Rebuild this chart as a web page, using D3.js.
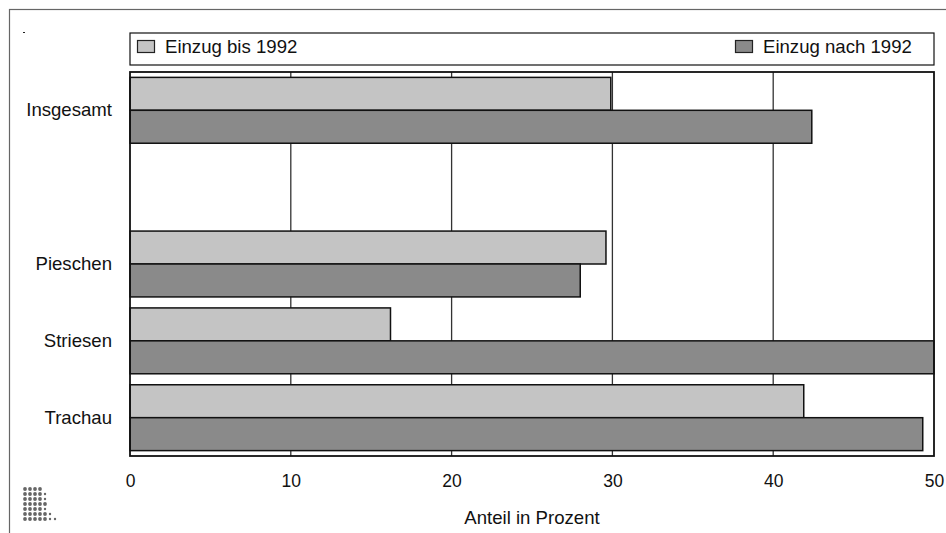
<!DOCTYPE html>
<html>
<head>
<meta charset="utf-8">
<script src="https://cdn.jsdelivr.net/npm/d3@7"></script>
<style>
  html, body { margin: 0; padding: 0; background: #fff; }
  svg text { font-family: "Liberation Sans", Arial, Helvetica, sans-serif; fill: #111; }
</style>
</head>
<body>
<svg id="chart" width="946" height="533"></svg>
<script>
// ---- data ----
const categories = ["Insgesamt", "", "Pieschen", "Striesen", "Trachau"]; // "" = empty spacer row
const seriesNames = ["Einzug bis 1992", "Einzug nach 1992"];
const bis1992   = [29.9, null, 29.6, 16.2, 41.9];
const nach1992  = [42.4, null, 28.0, 50.0, 49.3];
const xTicks = [0, 10, 20, 30, 40, 50];
const xTitle = "Anteil in Prozent";
const colors = ["#c4c4c4", "#8a8a8a"];

const svg = d3.select("#chart");
const W = 946, H = 533;
const m = { left: 130, right: 12, top: 72, bottom: 77 };
const labelFont = "18.6px";

// outer frame
svg.append("rect").attr("x", 9.5).attr("y", 9.5).attr("width", 1000).attr("height", 1000)
  .attr("fill", "none").attr("stroke", "#666").attr("stroke-width", 1.2);
// tiny mark top-left
svg.append("rect").attr("x", 23).attr("y", 32).attr("width", 2).attr("height", 1).attr("fill", "#222");

const x = d3.scaleLinear().domain([0, 50]).range([m.left, W - m.right]);
const y = d3.scaleBand().domain(categories).range([m.top, H - m.bottom])
  .paddingInner(0.143).paddingOuter(0.07);
const ySub = d3.scaleBand().domain(seriesNames).range([0, y.bandwidth()]);

// gridlines
svg.append("g").selectAll("line").data(xTicks.filter(t => t > 0 && t < 50)).join("line")
  .attr("x1", d => x(d)).attr("x2", d => x(d))
  .attr("y1", m.top).attr("y2", H - m.bottom)
  .attr("stroke", "#333").attr("stroke-width", 1.3);

// bars
const rows = categories.map((c, i) => ({ c, vals: [bis1992[i], nach1992[i]] }));
const g = svg.append("g");
rows.forEach(r => {
  r.vals.forEach((v, j) => {
    if (v == null) return;
    g.append("rect")
      .attr("x", x(0))
      .attr("y", y(r.c) + ySub(seriesNames[j]))
      .attr("width", x(v) - x(0))
      .attr("height", ySub.bandwidth())
      .attr("fill", colors[j])
      .attr("stroke", "#111").attr("stroke-width", 1.5);
  });
});

// plot frame
svg.append("rect").attr("x", m.left).attr("y", m.top)
  .attr("width", W - m.right - m.left).attr("height", H - m.bottom - m.top)
  .attr("fill", "none").attr("stroke", "#111").attr("stroke-width", 1.8);

// x axis labels
const xAxis = d3.axisBottom(x).tickValues(xTicks).tickSize(0).tickPadding(0);
const ax = svg.append("g").attr("transform", `translate(0,${H - m.bottom})`).call(xAxis);
ax.select(".domain").remove();
ax.selectAll("text").attr("y", 31).attr("dy", 0).style("font-size", "17.5px")
  .style("font-family", "Liberation Sans, Arial, sans-serif").attr("fill", "#111");

// axis title
svg.append("text").attr("x", (x(0) + x(50)) / 2).attr("y", 524)
  .attr("text-anchor", "middle").style("font-size", labelFont).text(xTitle);

// category labels
const yAxis = d3.axisLeft(y).tickSize(0).tickPadding(18);
const ay = svg.append("g").attr("transform", `translate(${m.left},0)`).call(yAxis);
ay.select(".domain").remove();
ay.selectAll("text").style("font-size", labelFont)
  .style("font-family", "Liberation Sans, Arial, sans-serif").attr("fill", "#111");

// legend
const lg = svg.append("g");
lg.append("rect").attr("x", m.left).attr("y", 33).attr("width", W - m.right - m.left).attr("height", 32)
  .attr("fill", "#fff").attr("stroke", "#111").attr("stroke-width", 1.2);
const legendItems = [
  { name: seriesNames[0], color: colors[0], sx: 137 },
  { name: seriesNames[1], color: colors[1], sx: 735 }
];
legendItems.forEach(it => {
  lg.append("rect").attr("x", it.sx + 0.5).attr("y", 40.5).attr("width", 17).attr("height", 12)
    .attr("fill", it.color).attr("stroke", "#222").attr("stroke-width", 1.2);
  lg.append("text").attr("x", it.sx + 28).attr("y", 53).style("font-size", labelFont)
    .text(it.name);
});

// logo dots (bottom-left)
const logoRows = [[4, 0], [4, 1], [4, 1], [5, 0], [4, 1], [5, 1], [5, 2]];
const lgo = svg.append("g").attr("fill", "#666");
logoRows.forEach((r, i) => {
  for (let k = 0; k < r[0] + r[1]; k++) {
    lgo.append("circle").attr("cx", 25 + k * 5).attr("cy", 489 + i * 5)
      .attr("r", k < r[0] ? 1.9 : 1.2);
  }
});
</script>
</body>
</html>
